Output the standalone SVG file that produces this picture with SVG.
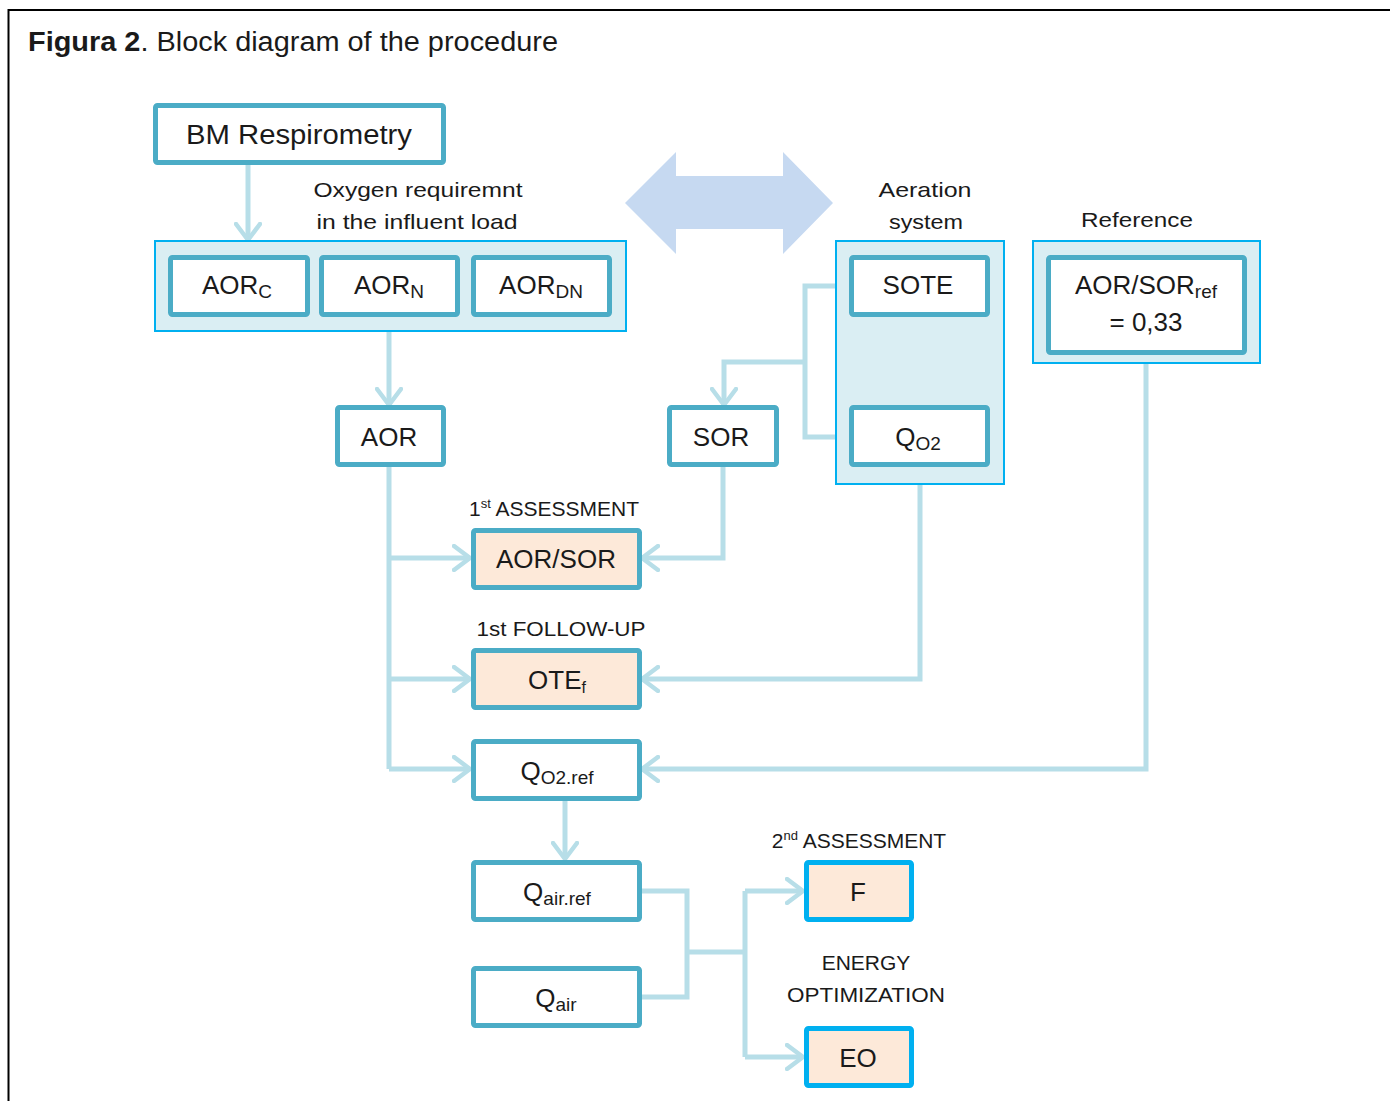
<svg xmlns="http://www.w3.org/2000/svg" width="1390" height="1101" viewBox="0 0 1390 1101">
<style>
text{font-family:"Liberation Sans",Arial,sans-serif;fill:#1a1a1a;}
.box{fill:#fff;stroke:#4BACC6;stroke-width:5;}
.peach{fill:#FDE9D9;stroke:#4BACC6;stroke-width:5;}
.peachb{fill:#FDE9D9;stroke:#00B0F0;stroke-width:5;}
.grp{fill:#DAEEF3;stroke:#00B0F0;stroke-width:2;}
.t{font-size:26px;text-anchor:middle;}
.l{font-size:21px;text-anchor:middle;}
.s{font-size:19px;}
.c{fill:none;stroke:#B7DEE8;stroke-width:5;stroke-linejoin:miter;}
.ca{fill:none;stroke:#B7DEE8;stroke-width:5;marker-end:url(#ah);}
</style>
<defs>
<marker id="ah" markerUnits="userSpaceOnUse" viewBox="0 0 20 28" refX="18" refY="14" markerWidth="20" markerHeight="28" orient="auto">
<path d="M2,2 L18,14 L2,26" fill="none" stroke="#B7DEE8" stroke-width="4.5" stroke-linecap="round" stroke-linejoin="round"/>
</marker>
</defs>
<rect width="1390" height="1101" fill="#fff"/>
<path d="M1390,10 H8.5 V1101" fill="none" stroke="#000" stroke-width="2"/>
<text x="28" y="51" style="font-size:27px" textLength="530" lengthAdjust="spacingAndGlyphs"><tspan font-weight="bold">Figura 2</tspan>. Block diagram of the procedure</text>

<g id="dblarrow">
<polygon points="625,203 676,152 676,176 783,176 783,152 833,203 783,254 783,229 676,229 676,254" fill="#C6D9F1"/>
</g>

<g id="connectors">
<path class="ca" d="M248,165 V240"/>
<path class="ca" d="M389,332 V405"/>
<path class="c" d="M850,286 H805 V437 H850"/>
<path class="ca" d="M805,362 H724 V405"/>
<path class="c" d="M389,467 V769"/>
<path class="ca" d="M389,558 H470"/>
<path class="ca" d="M389,679 H470"/>
<path class="ca" d="M389,769 H470"/>
<path class="ca" d="M723,467 V558 H642"/>
<path class="ca" d="M920,467 V679 H642"/>
<path class="ca" d="M1146,364 V769 H642"/>
<path class="ca" d="M565,801 V859"/>
<path class="c" d="M641,891 H687 V997 H641"/>
<path class="c" d="M687,952 H745"/>
<path class="c" d="M745,891 V1057"/>
<path class="ca" d="M745,891 H803"/>
<path class="ca" d="M745,1057 H803"/>
</g>

<g id="bm">
<rect class="box" x="155.5" y="105.5" width="288" height="57" rx="2"/>
<text class="t" x="299" y="144" style="font-size:27px" textLength="226" lengthAdjust="spacingAndGlyphs">BM Respirometry</text>
</g>
<g id="lbl-oxygen">
<text class="l" x="418" y="197" textLength="209" lengthAdjust="spacingAndGlyphs">Oxygen requiremnt</text>
<text class="l" x="417" y="229" textLength="201" lengthAdjust="spacingAndGlyphs">in the influent load</text>
</g>
<g id="influent-group">
<rect class="grp" x="155" y="241" width="471" height="90"/>
</g>
<g id="aorc">
<rect class="box" x="170.5" y="257.5" width="137" height="57" rx="2"/>
<text class="t" x="237" y="294">AOR<tspan class="s" dy="4">C</tspan></text>
</g>
<g id="aorn">
<rect class="box" x="321.5" y="257.5" width="136" height="57" rx="2"/>
<text class="t" x="389" y="294">AOR<tspan class="s" dy="4">N</tspan></text>
</g>
<g id="aordn">
<rect class="box" x="473.5" y="257.5" width="136" height="57" rx="2"/>
<text class="t" x="541" y="294">AOR<tspan class="s" dy="4">DN</tspan></text>
</g>
<g id="aor">
<rect class="box" x="337.5" y="407.5" width="106" height="57" rx="2"/>
<text class="t" x="389" y="446">AOR</text>
</g>
<g id="aeration-group">
<text class="l" x="925" y="197" textLength="93" lengthAdjust="spacingAndGlyphs">Aeration</text>
<text class="l" x="926" y="229" textLength="74" lengthAdjust="spacingAndGlyphs">system</text>
<rect class="grp" x="836" y="241" width="168" height="243"/>
</g>
<g id="sote">
<rect class="box" x="851.5" y="257.5" width="136" height="57" rx="2"/>
<text class="t" x="918" y="294">SOTE</text>
</g>
<g id="qo2">
<rect class="box" x="851.5" y="407.5" width="136" height="57" rx="2"/>
<text class="t" x="918" y="446">Q<tspan class="s" dy="4">O2</tspan></text>
</g>
<g id="reference-group">
<text class="l" x="1137" y="227" textLength="112" lengthAdjust="spacingAndGlyphs">Reference</text>
<rect class="grp" x="1033" y="241" width="227" height="122"/>
</g>
<g id="aorsorref">
<rect class="box" x="1048.5" y="257.5" width="196" height="95" rx="2"/>
<text class="t" x="1146" y="294">AOR/SOR<tspan class="s" dy="4">ref</tspan></text>
<text class="t" x="1146" y="331">= 0,33</text>
</g>
<g id="sor">
<rect class="box" x="669.5" y="407.5" width="107" height="57" rx="2"/>
<text class="t" x="721" y="446">SOR</text>
</g>
<g id="aorsor">
<text class="l" x="554" y="516">1<tspan font-size="13" dy="-8">st</tspan><tspan dy="8"> ASSESSMENT</tspan></text>
<rect class="peach" x="473.5" y="530.5" width="166" height="57" rx="2"/>
<text class="t" x="556" y="568">AOR/SOR</text>
</g>
<g id="otef">
<text class="l" x="561" y="636" textLength="169" lengthAdjust="spacingAndGlyphs">1st FOLLOW-UP</text>
<rect class="peach" x="473.5" y="650.5" width="166" height="57" rx="2"/>
<text class="t" x="557" y="689">OTE<tspan font-size="16" dy="4">f</tspan></text>
</g>
<g id="qo2ref">
<rect class="box" x="473.5" y="741.5" width="166" height="57" rx="2"/>
<text class="t" x="557" y="780">Q<tspan class="s" dy="4">O2.ref</tspan></text>
</g>
<g id="qairref">
<rect class="box" x="473.5" y="862.5" width="166" height="57" rx="2"/>
<text class="t" x="557" y="901">Q<tspan class="s" dy="4">air.ref</tspan></text>
</g>
<g id="qair">
<rect class="box" x="473.5" y="968.5" width="166" height="57" rx="2"/>
<text class="t" x="556" y="1007">Q<tspan class="s" dy="4">air</tspan></text>
</g>
<g id="f">
<text class="l" x="859" y="848">2<tspan font-size="13" dy="-8">nd</tspan><tspan dy="8"> ASSESSMENT</tspan></text>
<rect class="peachb" x="806.5" y="862.5" width="105" height="57" rx="2"/>
<text class="t" x="858" y="901">F</text>
</g>
<g id="eo">
<text class="l" x="866" y="970">ENERGY</text>
<text class="l" x="866" y="1002" textLength="158" lengthAdjust="spacingAndGlyphs">OPTIMIZATION</text>
<rect class="peachb" x="806.5" y="1028.5" width="105" height="57" rx="2"/>
<text class="t" x="858" y="1067">EO</text>
</g>
</svg>
